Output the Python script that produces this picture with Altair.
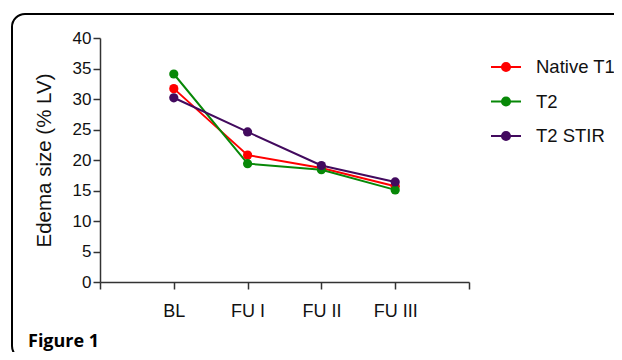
import altair as alt
import pandas as pd

categories = ["BL", "FU I", "FU II", "FU III"]
series_names = ["Native T1", "T2", "T2 STIR"]
native_t1 = [31.7, 20.8, 18.7, 15.7]
t2 = [34.1, 19.4, 18.4, 15.1]
t2_stir = [30.2, 24.6, 19.1, 16.4]
colors = ["#ff0000", "#078807", "#420a5e"]
y_ticks = [0, 5, 10, 15, 20, 25, 30, 35, 40]

rows = []
for name, vals in zip(series_names, [native_t1, t2, t2_stir]):
    for i, (c, v) in enumerate(zip(categories, vals)):
        rows.append({"series": name, "cat": c, "idx": i + 1, "value": v,
                     "order": series_names.index(name)})
df = pd.DataFrame(rows)

label_list = "['', " + ", ".join(f"'{c}'" for c in categories) + ", '']"

font = "Liberation Sans"
sym_path = ("M-1,0L1,0M-0.27,0A0.27,0.27,0,1,0,0.27,0A0.27,0.27,0,1,0,-0.27,0Z"
            "M-0.13,0A0.13,0.13,0,1,0,0.13,0A0.13,0.13,0,1,0,-0.13,0Z")

base = alt.Chart(df)

lines = base.mark_line(strokeWidth=2, point=alt.OverlayMarkDef(size=85, filled=True, opacity=1)).encode(
    x=alt.X("idx:Q", scale=alt.Scale(domain=[0, 5], nice=False, zero=False),
            axis=alt.Axis(values=[0, 1, 2, 3, 4, 5], labelExpr=label_list + "[datum.value]",
                          title=None, grid=False, tickSize=7, labelPadding=13,
                          labelFontSize=18, labelFont=font, labelColor="#111",
                          domainColor="#333", tickColor="#333", domainWidth=1.5, tickWidth=1.5)),
    y=alt.Y("value:Q", scale=alt.Scale(domain=[0, 40], nice=False),
            axis=alt.Axis(values=y_ticks, title="Edema size (% LV)", grid=False, tickSize=7,
                          labelPadding=2, labelFontSize=17, labelFont=font, labelColor="#111",
                          titleFont=font, titleFontSize=20.5, titleFontWeight="normal",
                          titleColor="#111", titlePadding=18,
                          domainColor="#333", tickColor="#333", domainWidth=1.5, tickWidth=1.5)),
    color=alt.Color("series:N", scale=alt.Scale(domain=series_names, range=colors),
                    legend=alt.Legend(title=None, orient="none", legendX=390, legendY=13,
                                      symbolType=sym_path, symbolSize=900, symbolStrokeWidth=2,
                                      labelFont=font, labelFontSize=18.5, labelColor="#111",
                                      labelOffset=14, rowPadding=8.5)),
    order=alt.Order("order:Q"),
    detail="series:N",
)

frame = alt.Chart(pd.DataFrame({"a": [0]})).mark_rect(
    fill=None, stroke="#000", strokeWidth=2, cornerRadius=13, clip=False
).encode(x=alt.value(-88), x2=alt.value(560), y=alt.value(-24), y2=alt.value(321))

fig = alt.Chart(pd.DataFrame({"t": ["Figure 1"]})).mark_text(
    align="left", baseline="alphabetic", font="Open Sans", fontWeight="bold", fontSize=18, color="#000"
).encode(text="t:N", x=alt.value(-72), y=alt.value(309))

chart = alt.layer(frame, lines, fig).properties(
    width=369, height=244,
    autosize=alt.AutoSizeParams(type="none"),
    padding={"left": 92, "top": 30, "right": 145, "bottom": 70},
    background="white",
).configure_view(stroke=None)

chart.save("out.html", embed_options={"renderer": "svg", "actions": False})
